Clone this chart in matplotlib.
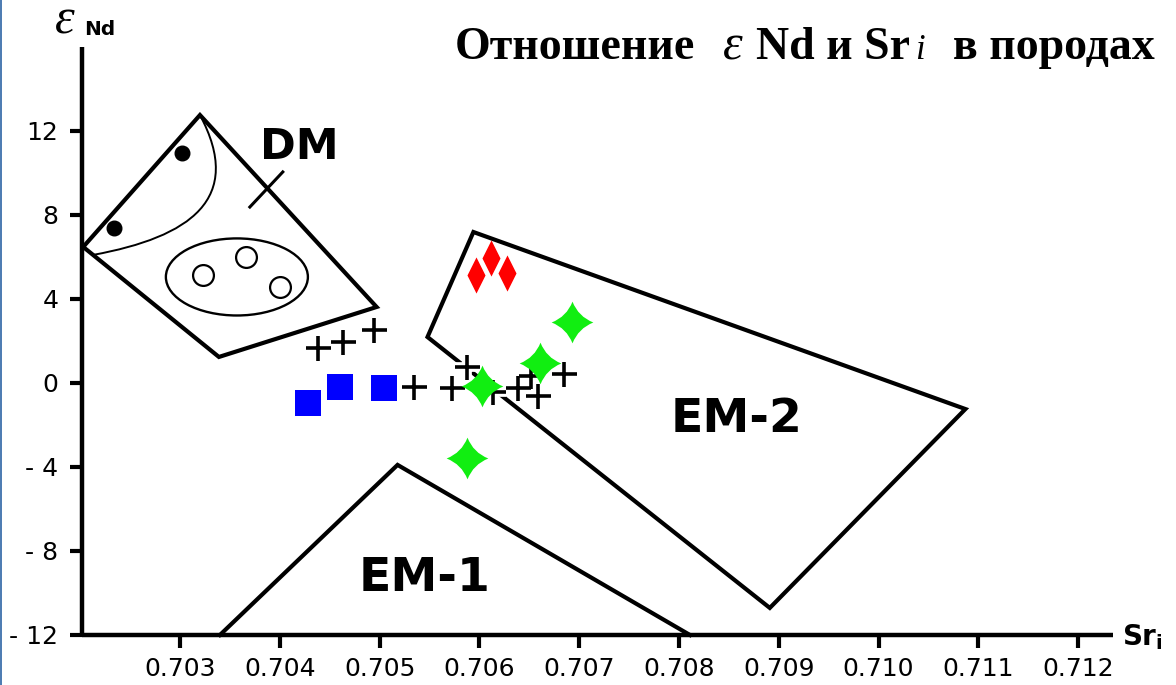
import matplotlib
matplotlib.use("Agg")
import matplotlib.pyplot as plt
from matplotlib.path import Path
from matplotlib.patches import Polygon, Ellipse, PathPatch, Rectangle

# ---- axis ticks ----
sr_ticks = [0.703, 0.704, 0.705, 0.706, 0.707, 0.708, 0.709, 0.710, 0.711, 0.712]
sr_tick_labels = ["0.703", "0.704", "0.705", "0.706", "0.707", "0.708",
                  "0.709", "0.710", "0.711", "0.712"]
end_ticks = [-12, -8, -4, 0, 4, 8, 12]
end_tick_labels = ["- 12", "- 8", "- 4", "0", "4", "8", "12"]

# ---- DM field ----
dm_field_sr = [0.70320, 0.70497, 0.70339, 0.70203]
dm_field_end = [12.76, 3.62, 1.24, 6.48]
dm_curve_sr = [0.70320, 0.70365, 0.70310, 0.70213]
dm_curve_end = [12.76, 8.76, 6.95, 6.10]
dm_oval_sr, dm_oval_end = 0.70357, 5.05
dm_oval_w, dm_oval_h = 0.001423, 3.67
dm_open_sr = [0.70323, 0.70366, 0.70400]
dm_open_end = [5.14, 6.00, 4.57]
dm_dot_sr = [0.70302, 0.70234]
dm_dot_end = [10.95, 7.38]
dm_leader_sr = [0.70370, 0.70403]
dm_leader_end = [8.38, 10.05]

# ---- EM-1 and EM-2 fields ----
em2_sr = [0.70594, 0.71087, 0.70891, 0.70548]
em2_end = [7.19, -1.24, -10.71, 2.19]
em1_sr = [0.70340, 0.70518, 0.70811]
em1_end = [-12.0, -3.90, -12.0]

# ---- samples ----
cross_sr = [0.70438, 0.70463, 0.70494, 0.70534, 0.70573, 0.70588,
            0.70614, 0.70639, 0.70652, 0.70659, 0.70685]
cross_end = [1.67, 1.95, 2.52, -0.19, -0.24, 0.76, -0.43, -0.24, 0.33, -0.62, 0.43]
square_sr = [0.70428, 0.70460, 0.70504]
square_end = [-0.94, -0.18, -0.22]
star_sr = [0.70603, 0.70661, 0.70693, 0.70588]
star_end = [-0.13, 0.97, 2.92, -3.59]
diamond_sr = [0.70597, 0.70612, 0.70628]
diamond_end = [5.14, 5.94, 5.22]

W, H = 1176, 685
fig = plt.figure(figsize=(W / 100, H / 100), dpi=100)
fig.patch.set_facecolor("white")
fig.add_artist(Rectangle((0, 0), 2 / W, 1, transform=fig.transFigure,
                         facecolor="#4f7db3", edgecolor="none"))

ax = fig.add_axes([82 / W, 1 - 635 / H, (1113 - 82) / W, (635 - 47) / H])
ax.set_xlim(0.702018, 0.712349)
ax.set_ylim(-12, 16)
for s in ("top", "right"):
    ax.spines[s].set_visible(False)
for s in ("left", "bottom"):
    ax.spines[s].set_linewidth(3.2)
    ax.spines[s].set_color("black")
    ax.spines[s].set_capstyle("butt")

ax.set_xticks(sr_ticks)
ax.set_xticklabels(sr_tick_labels, family="DejaVu Sans", size=18)
ax.set_yticks(end_ticks)
ax.set_yticklabels(end_tick_labels, family="DejaVu Sans", size=18)
ax.tick_params(axis="x", direction="out", length=9, width=3, pad=7)
ax.tick_params(axis="y", direction="out", length=9, width=3, pad=8)

lw_main = 3.0
joins = dict(joinstyle="miter")

# DM field
ax.add_patch(Polygon(list(zip(dm_field_sr, dm_field_end)), closed=True, fill=False,
                     edgecolor="black", linewidth=lw_main, zorder=2, **joins))
curve = Path(list(zip(dm_curve_sr, dm_curve_end)),
             [Path.MOVETO, Path.CURVE4, Path.CURVE4, Path.CURVE4])
ax.add_patch(PathPatch(curve, fill=False, edgecolor="black", linewidth=1.4, zorder=2))
ax.add_patch(Ellipse((dm_oval_sr, dm_oval_end), dm_oval_w, dm_oval_h, fill=False,
                     edgecolor="black", linewidth=1.7, zorder=2))
ax.plot(dm_open_sr, dm_open_end, linestyle="none", marker="o", ms=15,
        mfc="white", mec="black", mew=1.6, zorder=3)
ax.plot(dm_dot_sr, dm_dot_end, linestyle="none", marker="o", ms=10.5,
        mfc="black", mec="black", zorder=3)
ax.plot(dm_leader_sr, dm_leader_end, color="black", linewidth=2.2, zorder=2)
ax.text(0.7042, 11.24, "DM", ha="center", va="center", family="DejaVu Sans",
        weight="bold", size=31)

# EM-2 and EM-1 fields
ax.add_patch(Polygon(list(zip(em2_sr, em2_end)), closed=True, fill=False,
                     edgecolor="black", linewidth=lw_main, zorder=2, **joins))
ax.plot(em1_sr, em1_end, color="black", linewidth=lw_main, zorder=2,
        solid_joinstyle="miter", clip_on=False)
ax.text(0.70858, -1.76, "EM-2", ha="center", va="center", family="DejaVu Sans",
        weight="bold", size=34)
ax.text(0.70545, -9.29, "EM-1", ha="center", va="center", family="DejaVu Sans",
        weight="bold", size=34)

# sample symbols
ax.plot(cross_sr, cross_end, linestyle="none", marker="+", ms=18,
        mec="white", mew=7, zorder=3)
ax.plot(cross_sr, cross_end, linestyle="none", marker="+", ms=18,
        mec="black", mew=2.6, zorder=4)
ax.plot(square_sr, square_end, linestyle="none", marker="s", ms=18.5,
        mfc="#0000ff", mec="#0000ff", mew=0, zorder=4)

c = 0.28
star_path = Path([(0, 1), (c, c), (1, 0), (c, -c), (0, -1), (-c, -c), (-1, 0),
                  (-c, c), (0, 1), (0, 1)],
                 [Path.MOVETO, Path.CURVE3, Path.CURVE3, Path.CURVE3, Path.CURVE3,
                  Path.CURVE3, Path.CURVE3, Path.CURVE3, Path.CURVE3, Path.CLOSEPOLY])
ax.plot(star_sr, star_end, linestyle="none", marker=star_path, ms=30,
        mfc="#11ee11", mec="#11ee11", mew=0, zorder=5)

diamond_path = Path([(0, 1), (0.5, 0), (0, -1), (-0.5, 0), (0, 1)],
                    [Path.MOVETO, Path.LINETO, Path.LINETO, Path.LINETO, Path.CLOSEPOLY])
ax.plot(diamond_sr, diamond_end, linestyle="none", marker=diamond_path, ms=26,
        mfc="#ff0000", mec="#ff0000", mew=0, zorder=5)


def px_text(x, y, s, **kw):
    """Place text at pixel coordinates (origin at the top-left)."""
    return fig.text(x / W, 1 - y / H, s, ha="left", va="baseline", **kw)


# axis names
px_text(55, 34, "ε", family="Liberation Serif", style="italic", size=36)
px_text(84, 35, "Nd", family="DejaVu Sans", weight="bold", size=14.5)
px_text(1122, 645, r"$\mathbf{Sr_i}$", size=20)

# title line, laid out piece by piece
renderer = fig.canvas.get_renderer()
serif_b = dict(family="Liberation Serif", weight="bold", size=33)
title_runs = [
    ("Отношение", serif_b, 28),
    ("ε", dict(family="Liberation Serif", style="italic", size=36), 13),
    ("Nd и Sr", serif_b, 5),
    ("i", dict(family="Liberation Serif", style="italic", size=25), 28),
    ("в породах", serif_b, 0),
]
x = 455
for s, kw, gap in title_runs:
    t = px_text(x, 59, s, **kw)
    x += t.get_window_extent(renderer).width + gap

fig.savefig("out.png", dpi=100, facecolor="white")
